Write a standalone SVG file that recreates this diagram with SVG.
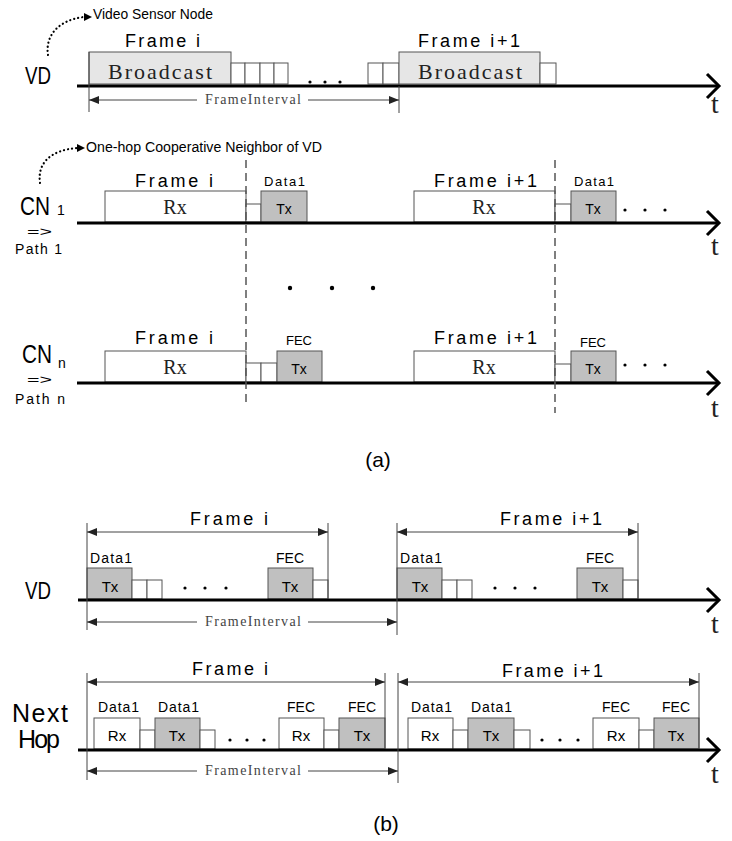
<svg xmlns="http://www.w3.org/2000/svg" width="732" height="841" viewBox="0 0 732 841">
<defs>
<style>
.tl{stroke:#000;stroke-width:3;fill:none}
.chev{stroke:#000;stroke-width:3;fill:none;stroke-linejoin:miter}
.bx{fill:#fff;stroke:#555;stroke-width:1}
.tx{fill:#c0c0c0;stroke:#555;stroke-width:1}
.bc{fill:#e6e6e6;stroke:#555;stroke-width:1}
.s{font-family:"Liberation Sans",Arial,sans-serif;fill:#000}
.sr{font-family:"Liberation Serif","Times New Roman",serif;fill:#222}
.t{font-family:"Liberation Serif","Times New Roman",serif;fill:#222;font-size:28px}
.fr{font-size:18px}
.sm{font-size:13px}
.tk{stroke:#444;stroke-width:1;fill:none}
.dim{stroke:#444;stroke-width:1;fill:none}
.dash{stroke:#555;stroke-width:1.5;stroke-dasharray:8 5;fill:none}
.dot{stroke:#000;stroke-width:2.2;stroke-dasharray:0.1 4;stroke-linecap:round;fill:none}
.fi{font-size:14px;fill:#444}
</style>
<marker id="ah" viewBox="0 0 10 8" refX="10" refY="4" markerWidth="10" markerHeight="8" markerUnits="userSpaceOnUse" orient="auto-start-reverse">
<path d="M0,0 L10,4 L0,8 z" fill="#222"/>
</marker>
</defs>

<!-- ================= (a) VD ================= -->
<g id="a-vd">
<text class="s" x="25" y="84" font-size="24" textLength="26" lengthAdjust="spacingAndGlyphs">VD</text>
<text class="s" x="93" y="19" font-size="14" textLength="120" lengthAdjust="spacingAndGlyphs">Video Sensor Node</text>
<text class="s fr" x="125" y="47" textLength="75" lengthAdjust="spacing">Frame i</text>
<rect class="bc" x="89" y="52" width="142" height="32"/>
<text class="sr" x="108" y="79" font-size="22" textLength="104" lengthAdjust="spacing">Broadcast</text>
<rect class="bx" x="231" y="63" width="14" height="21"/>
<rect class="bx" x="245" y="63" width="15" height="21"/>
<rect class="bx" x="260" y="63" width="14" height="21"/>
<rect class="bx" x="274" y="63" width="14" height="21"/>
<circle cx="310" cy="82" r="1.6"/><circle cx="325" cy="82" r="1.6"/><circle cx="340" cy="82" r="1.6"/>
<rect class="bx" x="368" y="63" width="15" height="21"/>
<rect class="bx" x="383" y="63" width="16" height="21"/>
<text class="s fr" x="418" y="47" textLength="102" lengthAdjust="spacing">Frame i+1</text>
<rect class="bc" x="399" y="52" width="141" height="32"/>
<text class="sr" x="418" y="79" font-size="22" textLength="104" lengthAdjust="spacing">Broadcast</text>
<rect class="bx" x="540" y="63" width="16" height="21"/>
<line class="tl" x1="77" y1="86" x2="719" y2="86"/>
<polyline class="chev" points="707,74 719,86 707,98"/>
<text class="t" x="711" y="113">t</text>
<text class="sr fi" x="205" y="104" textLength="96" lengthAdjust="spacing">FrameInterval</text>
</g>

<!-- ================= (a) CN1 ================= -->
<g id="a-cn1">
<text class="s" x="20" y="215" font-size="25"><tspan textLength="30" lengthAdjust="spacingAndGlyphs">CN</tspan><tspan font-size="14" dx="7">1</tspan></text>
<text class="s"><tspan x="27" y="236" font-size="13" textLength="25" lengthAdjust="spacingAndGlyphs">=&gt;</tspan><tspan x="15" y="254" font-size="14" textLength="47" lengthAdjust="spacing">Path 1</tspan></text>
<text class="s" x="86" y="152" font-size="14" textLength="236" lengthAdjust="spacingAndGlyphs">One-hop Cooperative Neighbor of VD</text>
<text class="s fr" x="135" y="187" textLength="78" lengthAdjust="spacing">Frame i</text>
<rect class="bx" x="105" y="191" width="141" height="31"/>
<text class="sr" x="175" y="214" font-size="20" text-anchor="middle">Rx</text>
<rect class="bx" x="246" y="204" width="15" height="18"/>
<text class="s sm" x="264" y="186" textLength="41" lengthAdjust="spacing">Data1</text>
<rect class="tx" x="261" y="191" width="46" height="31"/>
<text class="s" x="284" y="214" font-size="14" text-anchor="middle">Tx</text>
<text class="s fr" x="434" y="187" textLength="103" lengthAdjust="spacing">Frame i+1</text>
<rect class="bx" x="414" y="191" width="141" height="31"/>
<text class="sr" x="484" y="214" font-size="20" text-anchor="middle">Rx</text>
<rect class="bx" x="555" y="204" width="16" height="18"/>
<text class="s sm" x="574" y="186" textLength="40" lengthAdjust="spacing">Data1</text>
<rect class="tx" x="571" y="191" width="45" height="31"/>
<text class="s" x="593" y="214" font-size="14" text-anchor="middle">Tx</text>
<circle cx="625" cy="210" r="1.6"/><circle cx="645" cy="210" r="1.6"/><circle cx="665" cy="210" r="1.6"/>
<line class="tl" x1="77" y1="223" x2="719" y2="223"/>
<polyline class="chev" points="707,211 719,223 707,235"/>
<text class="t" x="711" y="255">t</text>
</g>

<g id="a-gap">
<circle cx="290" cy="288" r="2.2"/><circle cx="332" cy="288" r="2.2"/><circle cx="373" cy="288" r="2.2"/>
</g>

<!-- ================= (a) CNn ================= -->
<g id="a-cnn">
<text class="s" x="22" y="363" font-size="25"><tspan textLength="30" lengthAdjust="spacingAndGlyphs">CN</tspan><tspan font-size="14" dx="6" dy="5">n</tspan></text>
<text class="s"><tspan x="27" y="384" font-size="13" textLength="25" lengthAdjust="spacingAndGlyphs">=&gt;</tspan><tspan x="15" y="404" font-size="14" textLength="50" lengthAdjust="spacing">Path n</tspan></text>
<text class="s fr" x="135" y="344" textLength="78" lengthAdjust="spacing">Frame i</text>
<rect class="bx" x="105" y="351" width="141" height="31"/>
<text class="sr" x="175" y="374" font-size="20" text-anchor="middle">Rx</text>
<rect class="bx" x="246" y="363" width="15" height="19"/>
<rect class="bx" x="261" y="363" width="16" height="19"/>
<text class="s sm" x="299" y="345" text-anchor="middle">FEC</text>
<rect class="tx" x="277" y="351" width="45" height="31"/>
<text class="s" x="299" y="374" font-size="14" text-anchor="middle">Tx</text>
<text class="s fr" x="434" y="344" textLength="103" lengthAdjust="spacing">Frame i+1</text>
<rect class="bx" x="414" y="351" width="141" height="31"/>
<text class="sr" x="484" y="374" font-size="20" text-anchor="middle">Rx</text>
<rect class="bx" x="555" y="364" width="16" height="18"/>
<text class="s sm" x="593" y="347" text-anchor="middle">FEC</text>
<rect class="tx" x="571" y="351" width="45" height="31"/>
<text class="s" x="593" y="374" font-size="14" text-anchor="middle">Tx</text>
<circle cx="625" cy="365" r="1.6"/><circle cx="645" cy="365" r="1.6"/><circle cx="665" cy="365" r="1.6"/>
<line class="tl" x1="77" y1="383" x2="719" y2="383"/>
<polyline class="chev" points="707,371 719,383 707,395"/>
<text class="t" x="711" y="417">t</text>
</g>

<text id="label-a" class="s" x="378" y="467" font-size="21" text-anchor="middle">(a)</text>

<!-- ================= (b) VD ================= -->
<g id="b-vd">
<text class="s" x="25" y="599" font-size="24" textLength="26" lengthAdjust="spacingAndGlyphs">VD</text>
<text class="s fr" x="190" y="525" textLength="78" lengthAdjust="spacing">Frame i</text>
<text class="s" x="90" y="563" font-size="14" textLength="42" lengthAdjust="spacing">Data1</text>
<rect class="tx" x="87" y="568" width="45" height="31"/>
<text class="s" x="110" y="592" font-size="15" text-anchor="middle">Tx</text>
<rect class="bx" x="132" y="580" width="15" height="19"/>
<rect class="bx" x="147" y="580" width="15" height="19"/>
<circle cx="185" cy="588" r="1.6"/><circle cx="205" cy="588" r="1.6"/><circle cx="226" cy="588" r="1.6"/>
<text class="s" x="290" y="563" font-size="14" text-anchor="middle">FEC</text>
<rect class="tx" x="268" y="568" width="45" height="31"/>
<text class="s" x="290" y="592" font-size="15" text-anchor="middle">Tx</text>
<rect class="bx" x="313" y="580" width="15" height="19"/>
<text class="s fr" x="500" y="525" textLength="102" lengthAdjust="spacing">Frame i+1</text>
<text class="s" x="400" y="563" font-size="14" textLength="42" lengthAdjust="spacing">Data1</text>
<rect class="tx" x="397" y="568" width="45" height="31"/>
<text class="s" x="420" y="592" font-size="15" text-anchor="middle">Tx</text>
<rect class="bx" x="442" y="580" width="15" height="19"/>
<rect class="bx" x="457" y="580" width="15" height="19"/>
<circle cx="495" cy="588" r="1.6"/><circle cx="515" cy="588" r="1.6"/><circle cx="535" cy="588" r="1.6"/>
<text class="s" x="600" y="563" font-size="14" text-anchor="middle">FEC</text>
<rect class="tx" x="577" y="568" width="46" height="31"/>
<text class="s" x="600" y="592" font-size="15" text-anchor="middle">Tx</text>
<rect class="bx" x="623" y="580" width="15" height="19"/>
<line class="tl" x1="78" y1="600" x2="719" y2="600"/>
<polyline class="chev" points="707,588 719,600 707,612"/>
<text class="t" x="711" y="633">t</text>
<text class="sr fi" x="205" y="626" textLength="96" lengthAdjust="spacing">FrameInterval</text>
</g>

<!-- ================= (b) Next Hop ================= -->
<g id="b-nexthop">
<text class="s" x="12" y="722" font-size="25" textLength="56" lengthAdjust="spacing">Next</text>
<text class="s" x="18" y="748" font-size="25" textLength="42" lengthAdjust="spacing">Hop</text>
<text class="s fr" x="192" y="675" textLength="76" lengthAdjust="spacing">Frame i</text>
<text class="s" x="98" y="712" font-size="14" textLength="41" lengthAdjust="spacing">Data1</text>
<rect class="bx" x="94" y="718" width="46" height="31"/>
<text class="s" x="117" y="741" font-size="15" text-anchor="middle">Rx</text>
<rect class="bx" x="140" y="730" width="15" height="19"/>
<text class="s" x="158" y="712" font-size="14" textLength="41" lengthAdjust="spacing">Data1</text>
<rect class="tx" x="155" y="718" width="45" height="31"/>
<text class="s" x="177" y="741" font-size="15" text-anchor="middle">Tx</text>
<rect class="bx" x="200" y="730" width="15" height="19"/>
<circle cx="230" cy="740" r="1.6"/><circle cx="247" cy="740" r="1.6"/><circle cx="264" cy="740" r="1.6"/>
<text class="s" x="301" y="712" font-size="14" text-anchor="middle">FEC</text>
<rect class="bx" x="279" y="718" width="45" height="31"/>
<text class="s" x="301" y="741" font-size="15" text-anchor="middle">Rx</text>
<rect class="bx" x="324" y="730" width="15" height="19"/>
<text class="s" x="362" y="712" font-size="14" text-anchor="middle">FEC</text>
<rect class="tx" x="339" y="718" width="46" height="31"/>
<text class="s" x="362" y="741" font-size="15" text-anchor="middle">Tx</text>
<text class="s fr" x="502" y="677" textLength="101" lengthAdjust="spacing">Frame i+1</text>
<text class="s" x="411" y="712" font-size="14" textLength="41" lengthAdjust="spacing">Data1</text>
<rect class="bx" x="408" y="718" width="45" height="31"/>
<text class="s" x="430" y="741" font-size="15" text-anchor="middle">Rx</text>
<rect class="bx" x="453" y="730" width="15" height="19"/>
<text class="s" x="471" y="712" font-size="14" textLength="41" lengthAdjust="spacing">Data1</text>
<rect class="tx" x="468" y="718" width="46" height="31"/>
<text class="s" x="491" y="741" font-size="15" text-anchor="middle">Tx</text>
<rect class="bx" x="514" y="730" width="16" height="19"/>
<circle cx="542" cy="740" r="1.6"/><circle cx="560" cy="740" r="1.6"/><circle cx="578" cy="740" r="1.6"/>
<text class="s" x="616" y="712" font-size="14" text-anchor="middle">FEC</text>
<rect class="bx" x="593" y="718" width="46" height="31"/>
<text class="s" x="616" y="741" font-size="15" text-anchor="middle">Rx</text>
<rect class="bx" x="639" y="730" width="15" height="19"/>
<text class="s" x="676" y="712" font-size="14" text-anchor="middle">FEC</text>
<rect class="tx" x="654" y="718" width="45" height="31"/>
<text class="s" x="676" y="741" font-size="15" text-anchor="middle">Tx</text>
<line class="tl" x1="78" y1="750" x2="719" y2="750"/>
<polyline class="chev" points="707,738 719,750 707,762"/>
<text class="t" x="711" y="783">t</text>
<text class="sr fi" x="205" y="775" textLength="96" lengthAdjust="spacing">FrameInterval</text>
</g>

<text id="label-b" class="s" x="386" y="831" font-size="21" text-anchor="middle">(b)</text>

<!-- ================= connectors ================= -->
<g id="connectors">
<path class="dot" d="M48,55 C45,36 58,20 84,17"/>
<polygon points="84,13 92,17 84,21" fill="#000"/>
<path class="dot" d="M40,183 C37,162 52,150 77,148"/>
<polygon points="77,144 85,148 77,152" fill="#000"/>
<line class="tk" x1="89" y1="52" x2="89" y2="112"/>
<line class="tk" x1="399" y1="86" x2="399" y2="113"/>
<line class="dim" x1="89" y1="100" x2="197" y2="100" marker-start="url(#ah)"/>
<line class="dim" x1="308" y1="100" x2="399" y2="100" marker-end="url(#ah)"/>
<line class="dash" x1="246" y1="160" x2="246" y2="407"/>
<line class="dash" x1="555" y1="160" x2="555" y2="413"/>
<line class="tk" x1="87" y1="523" x2="87" y2="630"/>
<line class="tk" x1="328" y1="523" x2="328" y2="599"/>
<line class="tk" x1="397" y1="523" x2="397" y2="635"/>
<line class="tk" x1="638" y1="523" x2="638" y2="599"/>
<line class="dim" x1="87" y1="532" x2="328" y2="532" marker-start="url(#ah)" marker-end="url(#ah)"/>
<line class="dim" x1="397" y1="532" x2="638" y2="532" marker-start="url(#ah)" marker-end="url(#ah)"/>
<line class="dim" x1="87" y1="622" x2="197" y2="622" marker-start="url(#ah)"/>
<line class="dim" x1="308" y1="622" x2="397" y2="622" marker-end="url(#ah)"/>
<line class="tk" x1="87" y1="673" x2="87" y2="780"/>
<line class="tk" x1="385" y1="673" x2="385" y2="749"/>
<line class="tk" x1="398" y1="673" x2="398" y2="783"/>
<line class="tk" x1="699" y1="673" x2="699" y2="749"/>
<line class="dim" x1="87" y1="682" x2="385" y2="682" marker-start="url(#ah)" marker-end="url(#ah)"/>
<line class="dim" x1="398" y1="682" x2="699" y2="682" marker-start="url(#ah)" marker-end="url(#ah)"/>
<line class="dim" x1="87" y1="771" x2="197" y2="771" marker-start="url(#ah)"/>
<line class="dim" x1="308" y1="771" x2="398" y2="771" marker-end="url(#ah)"/>
</g>
</svg>
